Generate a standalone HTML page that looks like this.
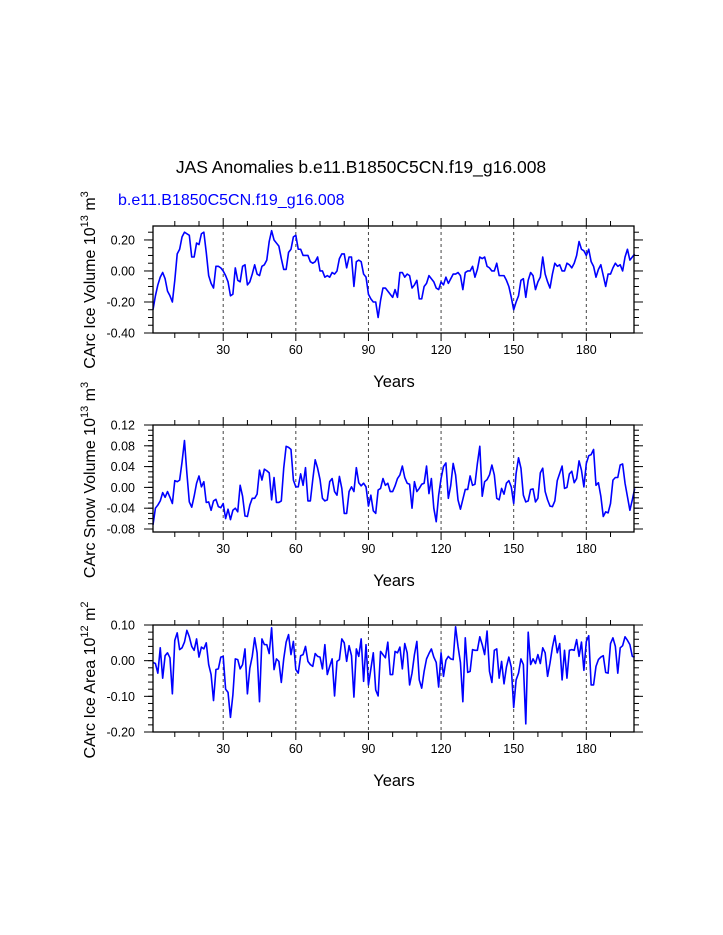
<!DOCTYPE html>
<html><head><meta charset="utf-8"><style>
body{margin:0;background:#fff;}
svg{display:block;font-family:"Liberation Sans",Arial,sans-serif;}
</style></head><body>
<svg id="chart" width="723" height="935" viewBox="0 0 723 935" xmlns="http://www.w3.org/2000/svg">
<rect width="723" height="935" fill="#fff"/>
<text x="361" y="173" font-size="17.5" text-anchor="middle">JAS Anomalies b.e11.B1850C5CN.f19_g16.008</text>
<text x="118" y="205" font-size="16" fill="#0000ff">b.e11.B1850C5CN.f19_g16.008</text>
</svg>
<script>
const iceVolume=[-0.25,-0.16,-0.09,-0.04,-0.01,-0.05,-0.13,-0.16,-0.20,-0.06,0.11,0.14,0.22,0.25,0.24,0.23,0.09,0.09,0.18,0.17,0.24,0.25,0.12,-0.03,-0.08,-0.11,0.03,0.03,0.02,0.00,-0.03,-0.07,-0.16,-0.15,0.02,-0.06,-0.07,0.03,0.04,-0.09,-0.07,-0.02,0.04,-0.02,-0.03,0.03,0.04,0.07,0.19,0.26,0.20,0.18,0.16,0.08,0.01,0.01,0.12,0.14,0.22,0.23,0.14,0.14,0.10,0.10,0.10,0.06,0.05,0.06,0.09,0.00,0.00,-0.04,-0.03,-0.04,-0.01,-0.02,0.00,0.08,0.11,0.11,0.02,0.09,0.09,-0.10,0.06,0.07,0.06,-0.02,-0.04,-0.15,-0.18,-0.20,-0.20,-0.30,-0.19,-0.11,-0.11,-0.13,-0.15,-0.17,-0.12,-0.17,-0.01,-0.01,-0.04,-0.02,-0.03,-0.11,-0.09,-0.06,-0.18,-0.18,-0.10,-0.08,-0.03,-0.05,-0.07,-0.11,-0.12,-0.07,-0.09,-0.04,-0.08,-0.05,-0.02,-0.02,-0.01,-0.03,-0.12,-0.01,0.00,0.00,0.03,-0.04,0.01,0.09,0.08,0.09,0.03,0.02,0.00,0.00,0.05,-0.03,-0.03,-0.03,-0.06,-0.10,-0.17,-0.25,-0.20,-0.16,-0.06,-0.05,-0.17,-0.06,-0.01,-0.03,-0.12,-0.07,-0.04,0.09,-0.02,-0.07,-0.11,-0.02,0.05,0.03,0.04,0.00,0.00,0.05,0.04,0.02,0.05,0.10,0.19,0.14,0.13,0.10,0.14,0.06,0.03,-0.04,0.01,0.04,-0.03,-0.10,-0.02,-0.02,0.02,0.05,0.03,0.04,0.00,0.09,0.14,0.07,0.09,0.11];
const snowVolume=[-0.072,-0.040,-0.034,-0.026,-0.010,-0.019,-0.008,-0.019,-0.031,0.013,0.011,0.014,0.049,0.090,0.027,-0.028,-0.038,-0.017,0.008,0.022,0.001,0.011,-0.029,-0.028,-0.044,-0.026,-0.023,-0.037,-0.039,-0.031,-0.060,-0.042,-0.062,-0.044,-0.040,-0.047,0.004,-0.017,-0.055,-0.056,-0.034,-0.021,-0.021,-0.013,0.033,0.014,0.035,0.032,0.028,-0.024,0.019,-0.029,-0.029,-0.026,0.037,0.079,0.077,0.073,0.014,0.001,0.001,0.026,0.004,0.038,-0.026,-0.026,0.015,0.053,0.037,0.015,-0.021,-0.026,-0.024,0.011,0.017,-0.008,-0.015,0.021,-0.002,-0.050,-0.050,-0.008,0.001,-0.008,0.038,0.009,0.003,0.008,0.001,-0.036,-0.015,-0.045,-0.050,-0.005,-0.002,0.017,0.004,0.008,-0.008,-0.008,0.003,0.017,0.024,0.041,0.019,0.008,0.006,-0.040,0.011,-0.008,-0.002,0.006,0.008,0.041,-0.012,0.017,-0.040,-0.066,-0.015,0.017,0.040,0.047,-0.021,0.004,0.046,0.024,-0.024,-0.042,-0.023,-0.004,-0.004,0.022,0.004,0.006,0.046,0.079,-0.017,0.011,0.015,0.024,0.043,0.024,-0.021,-0.024,-0.002,-0.013,0.008,0.013,0.001,-0.031,0.027,0.057,0.037,-0.015,-0.028,-0.026,-0.004,-0.003,-0.028,-0.021,0.028,0.037,-0.008,-0.024,-0.036,-0.037,-0.026,0.013,0.027,0.041,-0.002,0.000,0.026,0.031,0.009,0.017,0.051,0.033,0.001,0.046,0.061,0.063,0.073,0.004,0.009,-0.017,-0.056,-0.047,-0.049,-0.031,0.014,0.019,0.019,0.043,0.045,0.008,-0.018,-0.044,-0.024,-0.002];
const iceArea=[-0.005,-0.008,-0.035,0.036,-0.049,0.014,0.022,0.008,-0.093,0.057,0.078,0.031,0.036,0.052,0.085,0.067,0.040,0.029,0.061,0.010,0.038,0.033,0.050,-0.011,-0.039,-0.112,-0.025,-0.023,0.010,0.012,-0.080,-0.089,-0.159,-0.096,0.005,0.003,-0.023,-0.011,0.033,-0.093,-0.021,0.012,0.064,0.022,-0.115,0.061,0.045,0.045,0.020,0.092,-0.025,0.005,-0.002,-0.061,0.005,0.052,0.073,0.017,0.054,-0.025,-0.035,0.014,0.017,0.040,-0.002,-0.011,-0.016,0.020,0.012,0.010,-0.023,0.045,-0.039,-0.016,0.005,-0.099,-0.002,0.003,0.061,0.050,-0.002,0.042,0.014,-0.102,0.033,0.012,0.061,-0.058,0.045,-0.068,-0.023,0.022,-0.082,-0.099,0.026,0.017,0.008,0.052,-0.039,-0.039,0.026,0.022,0.038,-0.023,0.048,0.022,-0.068,-0.035,0.017,0.054,-0.054,-0.077,-0.030,0.005,0.020,0.033,0.010,-0.005,-0.074,0.022,-0.044,0.001,0.012,0.005,0.003,0.095,0.040,-0.005,-0.115,0.064,-0.033,-0.030,0.031,0.029,0.029,0.067,0.045,0.017,0.083,-0.030,-0.061,0.029,0.033,-0.049,-0.002,-0.065,-0.018,0.010,-0.018,-0.131,-0.054,-0.035,0.005,-0.011,-0.177,0.080,-0.011,0.005,-0.008,0.017,-0.008,0.036,0.022,-0.044,-0.007,0.038,0.070,0.022,0.048,-0.054,0.029,-0.049,0.029,0.031,0.029,0.059,0.012,0.052,-0.027,0.054,0.070,-0.068,-0.068,-0.016,0.003,0.010,0.014,-0.033,-0.035,0.048,0.064,0.040,-0.035,0.036,0.042,0.067,0.057,0.045,0.012,0.010];
const xTickLabels=[30,60,90,120,150,180];
const p1Ticks=[0.20,0.00,-0.20,-0.40];
const p2Ticks=[0.12,0.08,0.04,0.00,-0.04,-0.08];
const p3Ticks=[0.10,0.00,-0.10,-0.20];

const NS="http://www.w3.org/2000/svg";
const svg=document.getElementById('chart');
const X0=153,X1=634,YR0=1,YR1=199.7;
function xs(yr){return X0+(yr-YR0)/(YR1-YR0)*(X1-X0);}
function mk(tag,attrs,parent){const e=document.createElementNS(NS,tag);for(const k in attrs)e.setAttribute(k,attrs[k]);(parent||svg).appendChild(e);return e;}

function panel(key,top,bot,vmax,vmin,data,ticks,minorStep,dec,titleParts,titleY){
  const g=mk('g',{});
  
  
  const ys=v=>top+(vmax-v)/(vmax-vmin)*(bot-top);
  xTickLabels.forEach(t=>{const l=mk('line',{x1:xs(t),x2:xs(t),y1:top,y2:bot,stroke:'#444','stroke-width':1,'stroke-dasharray':'3,3'},g);
    
    });
  let d='';data.forEach((v,i)=>{d+=(i?'L':'M')+xs(i+1).toFixed(2)+','+ys(v).toFixed(2);});
  const p=mk('path',{d:d,fill:'none',stroke:'#0000ff','stroke-width':1.6,'stroke-linejoin':'round'},g);
  
  
  const r=mk('rect',{x:X0,y:top,width:X1-X0,height:bot-top,fill:'none',stroke:'#000','stroke-width':1.3},g);
  
  
  for(let t=10;t<=190;t+=10){const maj=t%30===0;const L=maj?8:5;const x=xs(t);
    mk('line',{x1:x,x2:x,y1:bot,y2:bot+L,stroke:'#000','stroke-width':1},g);
    mk('line',{x1:x,x2:x,y1:top,y2:top-L,stroke:'#000','stroke-width':1},g);}
  xTickLabels.forEach(t=>{const tx=mk('text',{x:xs(t),y:bot+21,'font-size':12.5,'text-anchor':'middle'},g);tx.textContent=t;
    
    });
  for(let v=Math.ceil(vmin/minorStep-1e-6)*minorStep;v<=vmax+1e-9;v+=minorStep){const y=ys(v);
    mk('line',{x1:X0,x2:X0-5,y1:y,y2:y,stroke:'#000','stroke-width':1},g);
    mk('line',{x1:X1,x2:X1+5,y1:y,y2:y,stroke:'#000','stroke-width':1},g);}
  ticks.forEach(v=>{const y=ys(v);
    mk('line',{x1:X0,x2:X0-9,y1:y,y2:y,stroke:'#000','stroke-width':1},g);
    mk('line',{x1:X1,x2:X1+9,y1:y,y2:y,stroke:'#000','stroke-width':1},g);
    const tx=mk('text',{x:135,y:y+4.5,'font-size':12.5,'text-anchor':'end'},g);tx.textContent=v.toFixed(dec);
    
    });
  const xt=mk('text',{x:394,y:bot+54,'font-size':16.5,'text-anchor':'middle'},g);xt.textContent='Years';
  
  
  const yt=mk('text',{x:0,y:0,'font-size':16,'text-anchor':'middle',transform:'translate(95,'+titleY+') rotate(-90)'},g);
  
  
  titleParts.forEach(([s,sup])=>{const ts=mk('tspan',sup?{'font-size':11,dy:-7}:{dy:0},yt);ts.textContent=s;
    if(sup){const back=mk('tspan',{dy:7},yt);back.textContent=' ';}});
}
panel('ice-volume',226,333,0.29,-0.40,iceVolume,p1Ticks,0.05,2,[['CArc Ice Volume 10',0],['13',1],['m',0],['3',1]],280);
panel('snow-volume',425,532,0.12,-0.0858,snowVolume,p2Ticks,0.01,2,[['CArc Snow Volume 10',0],['13',1],['m',0],['3',1]],480);
panel('ice-area',625,732,0.10,-0.20,iceArea,p3Ticks,0.02,2,[['CArc Ice Area 10',0],['12',1],['m',0],['2',1]],680);
</script>
</body></html>
